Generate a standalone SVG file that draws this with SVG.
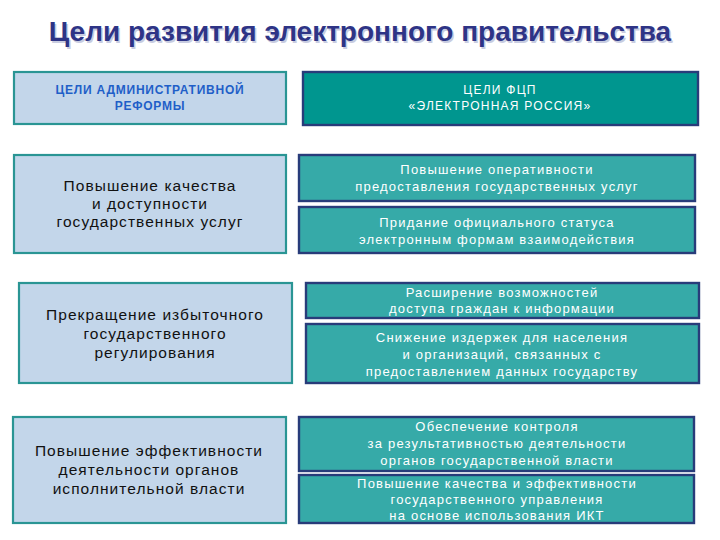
<svg xmlns="http://www.w3.org/2000/svg" width="720" height="540" viewBox="0 0 720 540">
<style>
.lb{fill:#C3D6EA;stroke:#2A9594;stroke-width:2.2}
.rb{fill:#36AAA8;stroke:#283C7A;stroke-width:2.4}
.rh{fill:#00968F;stroke:#283C7A;stroke-width:2.4}
.lt{font-family:"Liberation Sans",Arial,sans-serif;font-size:15.5px;fill:#111;text-anchor:middle;letter-spacing:1.05px}
.rt{font-family:"Liberation Sans",Arial,sans-serif;font-size:13px;fill:#fff;text-anchor:middle;letter-spacing:1.2px}
.ht{font-family:"Liberation Sans",Arial,sans-serif;font-size:12px;font-weight:bold;text-anchor:middle;letter-spacing:0.77px}
.hr{font-family:"Liberation Sans",Arial,sans-serif;font-size:12px;fill:#fff;text-anchor:middle;letter-spacing:1.25px}
.tt{font-family:"Liberation Sans",Arial,sans-serif;font-size:28px;font-weight:bold;text-anchor:middle}
</style>
<rect width="720" height="540" fill="#fff"/>
<g id="title">
<text class="tt" x="361.5" y="42.5" fill="#C8CCE0">Цели развития электронного правительства</text>
<text class="tt" x="360" y="41" fill="#2E3486">Цели развития электронного правительства</text>
</g>
<g id="header-left">
<rect class="lb" x="14" y="72" width="272" height="52"/>
<text class="ht" fill="#1F5FC8" x="150" y="94">ЦЕЛИ АДМИНИСТРАТИВНОЙ</text>
<text class="ht" fill="#1F5FC8" x="150" y="110">РЕФОРМЫ</text>
</g>
<g id="header-right">
<rect class="rh" x="303" y="72" width="395" height="53"/>
<text class="hr" x="500" y="94">ЦЕЛИ ФЦП</text>
<text class="hr" x="500" y="110">«ЭЛЕКТРОННАЯ РОССИЯ»</text>
</g>
<g id="left-1">
<rect class="lb" x="14" y="155" width="272" height="98"/>
<text class="lt" x="150" y="191">Повышение качества</text>
<text class="lt" x="150" y="209">и доступности</text>
<text class="lt" x="150" y="227">государственных услуг</text>
</g>
<g id="left-2">
<rect class="lb" x="19" y="283" width="273" height="100"/>
<text class="lt" x="155" y="320">Прекращение избыточного</text>
<text class="lt" x="155" y="339">государственного</text>
<text class="lt" x="155" y="358">регулирования</text>
</g>
<g id="left-3">
<rect class="lb" x="13" y="417" width="273" height="106"/>
<text class="lt" x="149" y="456">Повышение эффективности</text>
<text class="lt" x="149" y="475">деятельности органов</text>
<text class="lt" x="149" y="494">исполнительной власти</text>
</g>
<g id="right-1">
<rect class="rb" x="299" y="155" width="396" height="46"/>
<text class="rt" x="497" y="174">Повышение оперативности</text>
<text class="rt" x="497" y="191">предоставления государственных услуг</text>
</g>
<g id="right-2">
<rect class="rb" x="299" y="207" width="396" height="46"/>
<text class="rt" x="497" y="227">Придание официального статуса</text>
<text class="rt" x="497" y="244">электронным формам взаимодействия</text>
</g>
<g id="right-3">
<rect class="rb" x="306" y="283" width="393" height="35"/>
<text class="rt" x="502" y="297">Расширение возможностей</text>
<text class="rt" x="502" y="313">доступа граждан к информации</text>
</g>
<g id="right-4">
<rect class="rb" x="306" y="324" width="393" height="59"/>
<text class="rt" x="502" y="342">Снижение издержек для населения</text>
<text class="rt" x="502" y="359">и организаций, связанных с</text>
<text class="rt" x="502" y="376">предоставлением данных государству</text>
</g>
<g id="right-5">
<rect class="rb" x="299" y="417" width="395" height="54"/>
<text class="rt" x="497" y="431">Обеспечение контроля</text>
<text class="rt" x="497" y="448">за результативностью деятельности</text>
<text class="rt" x="497" y="465">органов государственной власти</text>
</g>
<g id="right-6">
<rect class="rb" x="299" y="475" width="395" height="48"/>
<text class="rt" x="497" y="488">Повышение качества и эффективности</text>
<text class="rt" x="497" y="504">государственного управления</text>
<text class="rt" x="497" y="520">на основе использования ИКТ</text>
</g>
<g id="connectors"/>
</svg>
